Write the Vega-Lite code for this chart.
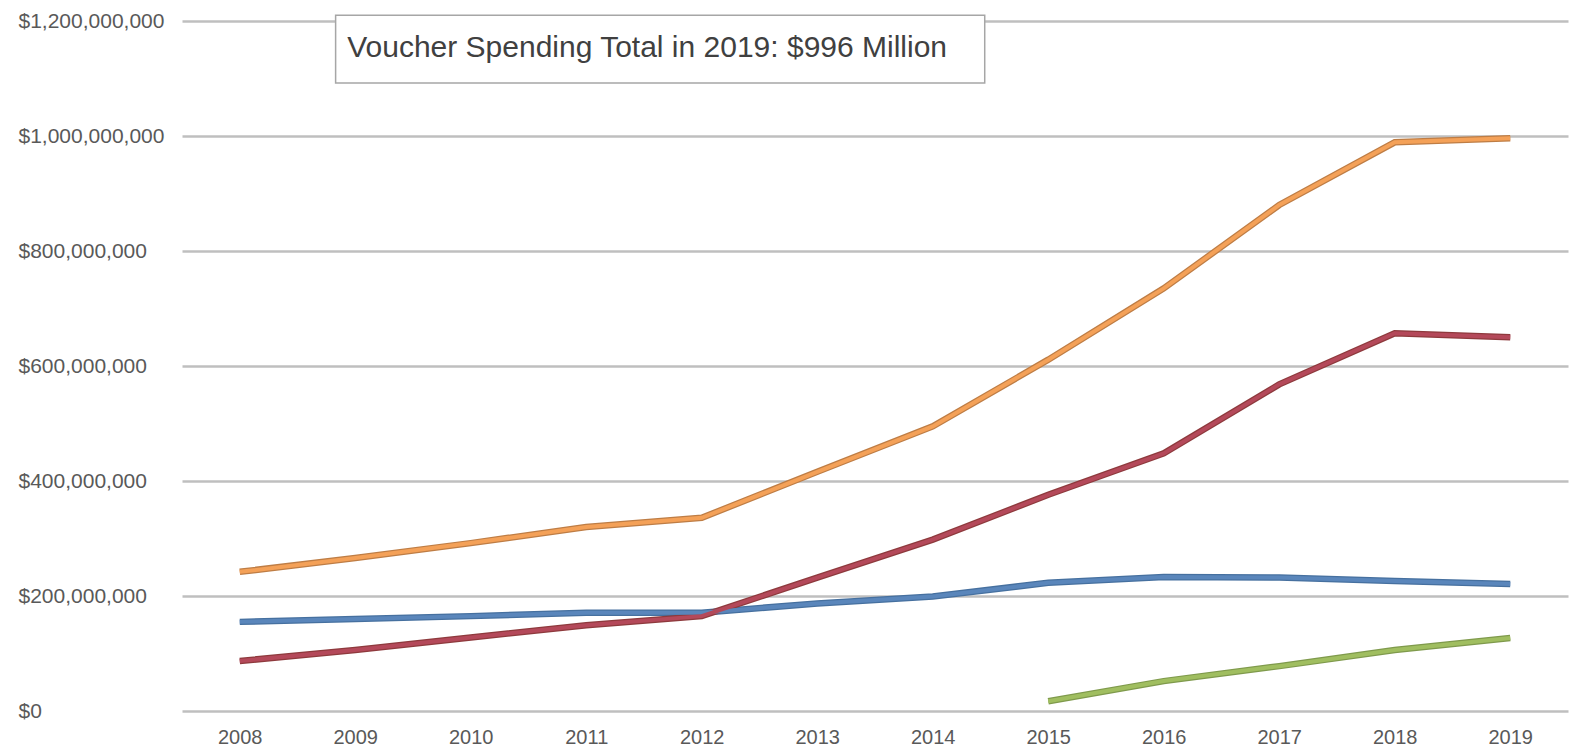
{
  "$schema": "https://vega.github.io/schema/vega-lite/v6.json",
  "width": 1386,
  "height": 690,
  "autosize": {"type": "none"},
  "padding": {"left": 182, "top": 21, "right": 6, "bottom": 43},
  "background": "white",
  "config": {
    "view": {"stroke": null},
    "font": "Liberation Sans"
  },
  "datasets": {
    "spend": [
      {"year": 2008, "series": "Program A", "value": 155000000},
      {"year": 2009, "series": "Program A", "value": 160000000},
      {"year": 2010, "series": "Program A", "value": 165000000},
      {"year": 2011, "series": "Program A", "value": 171000000},
      {"year": 2012, "series": "Program A", "value": 171000000},
      {"year": 2013, "series": "Program A", "value": 187000000},
      {"year": 2014, "series": "Program A", "value": 199000000},
      {"year": 2015, "series": "Program A", "value": 223000000},
      {"year": 2016, "series": "Program A", "value": 233000000},
      {"year": 2017, "series": "Program A", "value": 232000000},
      {"year": 2018, "series": "Program A", "value": 226000000},
      {"year": 2019, "series": "Program A", "value": 221000000},
      {"year": 2008, "series": "Program B", "value": 87000000},
      {"year": 2009, "series": "Program B", "value": 106000000},
      {"year": 2010, "series": "Program B", "value": 128000000},
      {"year": 2011, "series": "Program B", "value": 149000000},
      {"year": 2012, "series": "Program B", "value": 165000000},
      {"year": 2013, "series": "Program B", "value": 232000000},
      {"year": 2014, "series": "Program B", "value": 298000000},
      {"year": 2015, "series": "Program B", "value": 376000000},
      {"year": 2016, "series": "Program B", "value": 448000000},
      {"year": 2017, "series": "Program B", "value": 568000000},
      {"year": 2018, "series": "Program B", "value": 657000000},
      {"year": 2019, "series": "Program B", "value": 650000000},
      {"year": 2008, "series": "Total", "value": 242000000},
      {"year": 2009, "series": "Total", "value": 266000000},
      {"year": 2010, "series": "Total", "value": 292000000},
      {"year": 2011, "series": "Total", "value": 320000000},
      {"year": 2012, "series": "Total", "value": 336000000},
      {"year": 2013, "series": "Total", "value": 416000000},
      {"year": 2014, "series": "Total", "value": 495000000},
      {"year": 2015, "series": "Total", "value": 611000000},
      {"year": 2016, "series": "Total", "value": 735000000},
      {"year": 2017, "series": "Total", "value": 880000000},
      {"year": 2018, "series": "Total", "value": 989000000},
      {"year": 2019, "series": "Total", "value": 996000000},
      {"year": 2015, "series": "Program C", "value": 17000000},
      {"year": 2016, "series": "Program C", "value": 52000000},
      {"year": 2017, "series": "Program C", "value": 78000000},
      {"year": 2018, "series": "Program C", "value": 106000000},
      {"year": 2019, "series": "Program C", "value": 127000000}
    ]
  },
  "layer": [
    {
      "data": {"name": "spend"},
      "mark": {"type": "line", "strokeWidth": 6.5, "strokeCap": "butt", "strokeJoin": "miter"},
      "encoding": {
        "x": {
          "field": "year", "type": "quantitative",
          "scale": {"domain": [2007.5, 2019.5], "nice": false, "zero": false},
          "axis": {
            "values": [2008, 2009, 2010, 2011, 2012, 2013, 2014, 2015, 2016, 2017, 2018, 2019],
            "format": "d", "title": null, "grid": false, "domain": false, "ticks": false,
            "labelFont": "Liberation Sans", "labelFontSize": 20, "labelColor": "#595959",
            "labelPadding": 16, "labelFlush": false
          }
        },
        "y": {
          "field": "value", "type": "quantitative",
          "scale": {"domain": [0, 1200000000], "nice": false},
          "axis": {
            "values": [0, 200000000, 400000000, 600000000, 800000000, 1000000000, 1200000000],
            "format": "$,.0f", "title": null, "domain": false, "ticks": false,
            "grid": true, "gridColor": "#BFBFBF", "gridWidth": 2.5,
            "labelAlign": "left", "labelPadding": 164, "labelBaseline": "middle",
            "labelFont": "Liberation Sans", "labelFontSize": 21, "labelColor": "#595959"
          }
        },
        "detail": {"field": "series"},
        "color": {
          "field": "series", "type": "nominal", "legend": null,
          "scale": {"domain": ["Program A", "Program B", "Total", "Program C"],
                    "range": ["#46709F", "#8E3A3D", "#BE7D45", "#7F9A4C"]}
        },
        "order": {"field": "year"}
      }
    },
    {
      "data": {"name": "spend"},
      "mark": {"type": "line", "strokeWidth": 4, "strokeCap": "butt", "strokeJoin": "miter"},
      "encoding": {
        "x": {"field": "year", "type": "quantitative"},
        "y": {"field": "value", "type": "quantitative"},
        "detail": {"field": "series"},
        "color": {
          "field": "series", "type": "nominal", "legend": null,
          "scale": {"domain": ["Program A", "Program B", "Total", "Program C"],
                    "range": ["#5A86BB", "#B4495A", "#F4A158", "#A0BE60"]}
        },
        "order": {"field": "year"}
      }
    },
    {
      "data": {"values": [{}]},
      "mark": {"type": "rect", "fill": "white", "stroke": "#A6A6A6", "strokeWidth": 1.5},
      "encoding": {
        "x": {"datum": 2008.83, "type": "quantitative"},
        "x2": {"datum": 2014.45},
        "y": {"datum": 1210000000, "type": "quantitative"},
        "y2": {"datum": 1092000000}
      }
    },
    {
      "data": {"values": [{"label": "Voucher Spending Total in 2019: $996 Million"}]},
      "mark": {"type": "text", "align": "left", "baseline": "middle", "font": "Liberation Sans", "fontSize": 30, "color": "#404040"},
      "encoding": {
        "x": {"datum": 2008.93, "type": "quantitative"},
        "y": {"datum": 1153000000, "type": "quantitative"},
        "text": {"field": "label"}
      }
    }
  ],
  "resolve": {"scale": {"color": "independent"}}
}
